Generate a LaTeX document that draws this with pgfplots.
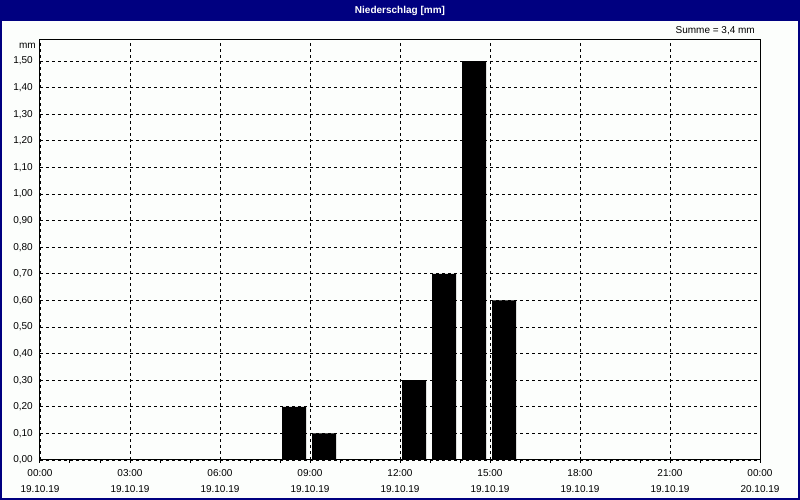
\documentclass[border=0pt]{standalone}
\usepackage{pgfplots}
\pgfplotsset{compat=1.18}
\usepackage{fontspec}
\setmainfont{Liberation Sans}
\definecolor{navy}{RGB}{0,0,128}
\definecolor{bg}{RGB}{252,254,252}
\begin{document}
\begin{tikzpicture}[x=1pt,y=1pt]
\fill[bg] (0,0) rectangle (800,500);
\fill[navy] (0,479) rectangle (800,500);
\draw[navy, line width=2pt] (1,1) rectangle (799,499);
\node[white, font=\bfseries\fontsize{10}{12}\selectfont] at (400,489.5) {Niederschlag [mm]};
\node[anchor=east, font=\fontsize{10}{12}\selectfont, inner sep=0pt] at (755,469) {Summe = 3,4 mm};
\node[anchor=east, font=\fontsize{10}{12}\selectfont, inner sep=0pt] at (36,454) {mm};
\begin{axis}[
  at={(40pt,40pt)}, anchor=south west,
  width=720pt, height=420pt, scale only axis,
  xmin=0, xmax=24, ymin=0, ymax=1.579,
  axis line style={black, line width=1pt},
  xtick={0,3,...,24},
  minor xtick={1,2,4,5,7,8,10,11,13,14,16,17,19,20,22,23},
  xtick pos=bottom, ytick pos=left,
  xticklabels={{00:00\\19.10.19},{03:00\\19.10.19},{06:00\\19.10.19},{09:00\\19.10.19},{12:00\\19.10.19},{15:00\\19.10.19},{18:00\\19.10.19},{21:00\\19.10.19},{00:00\\20.10.19}},
  xticklabel style={align=center, font=\fontsize{10}{16}\selectfont, inner sep=0pt, yshift=-6.5pt},
  ytick={0,0.1,...,1.51},
  yticklabel style={font=\fontsize{10}{12}\selectfont, inner sep=0pt, xshift=-4pt,
    /pgf/number format/use comma, /pgf/number format/fixed, /pgf/number format/fixed zerofill,
    /pgf/number format/precision=2, /pgf/number format/assume math mode=true},
  tick align=outside,
  x tick style={black, line width=1pt},
  major tick length=3pt, minor tick length=3pt,
  y tick style={draw=none},
  xmajorgrids, ymajorgrids,
  major grid style={black, line width=0.8pt, dash pattern=on 3pt off 3pt},
]
\addplot[ybar, fill=black, draw=none, bar width=0.8, bar shift=0pt] coordinates {
  (8.47,0.2) (9.47,0.1) (12.47,0.3) (13.47,0.7) (14.47,1.5) (15.47,0.6)
};
\end{axis}
\end{tikzpicture}
\end{document}
